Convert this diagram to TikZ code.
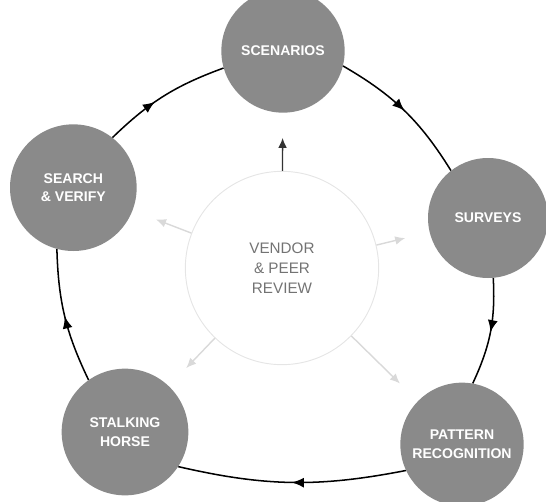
\documentclass[tikz,border=0pt]{standalone}
\usepackage{fontspec}
\setmainfont{Liberation Sans}
\usetikzlibrary{arrows.meta, decorations.markings}

\definecolor{discgray}{RGB}{138,138,138}
\definecolor{hubgray}{RGB}{115,115,115}

\begin{document}
\begin{tikzpicture}[
    >=Latex,
    every node/.style={align=center},
    stage/.style={
        circle, fill=discgray, text=white, inner sep=0pt,
        minimum size=3.7cm, font=\bfseries\fontsize{12}{16}\selectfont
    },
    hub/.style={
        circle, draw=black!10, thick, text=hubgray, inner sep=0pt,
        minimum size=5.8cm, font=\fontsize{13}{17}\selectfont
    },
    cycle/.style={
        line width=1.3pt, postaction={decorate},
        decoration={markings, mark=at position #1 with {\arrow{Latex[length=3.6mm,width=3mm]}}}
    },
    cycle/.default=0.5,
    spoke/.style={-{Latex[length=3mm,width=2.6mm]}, line width=1.2pt, draw=black!15, shorten >=0.75cm},
    darkspoke/.style={spoke, draw=black!80}
]
\useasboundingbox (0,0) rectangle (16.38,15.03);

% --------------------------------------------------------------------------
% Hub in the middle, five stages on the ring.
% --------------------------------------------------------------------------
\node[hub] (review) at (8.46,6.99) {VENDOR\\\& PEER\\REVIEW};

\node[stage] (scen) at (8.49,13.5) {SCENARIOS};
\node[stage, minimum size=3.6cm] (surv) at (14.64,8.49) {SURVEYS};
\node[stage] (patt) at (13.86,1.7) {PATTERN\\RECOGNITION};
\node[stage, minimum size=3.8cm] (stalk) at (3.75,2.07) {STALKING\\HORSE};
\node[stage, minimum size=3.8cm] (search) at (2.2,9.4) {SEARCH\\\& VERIFY};

% Ring: one stage leads to the next.
\draw[cycle] (scen.-14) to[bend left=14] (surv.128);
\draw[cycle] (surv.-85) to[bend left=14] (patt.80);
\draw[cycle] (patt.205) to[bend left=12] (stalk.-33);
\draw[cycle] (stalk.125) to[bend left=12] (search.-105);
\draw[cycle=0.42] (search.52) to[bend left=12] (scen.196);

% Spokes: the review feeds every stage.
\draw[darkspoke] (review) -- (scen);
\draw[spoke] (review) -- (surv);
\draw[spoke] (review) -- (patt);
\draw[spoke] (review) -- (stalk);
\draw[spoke] (review) -- (search);

\end{tikzpicture}
\end{document}
